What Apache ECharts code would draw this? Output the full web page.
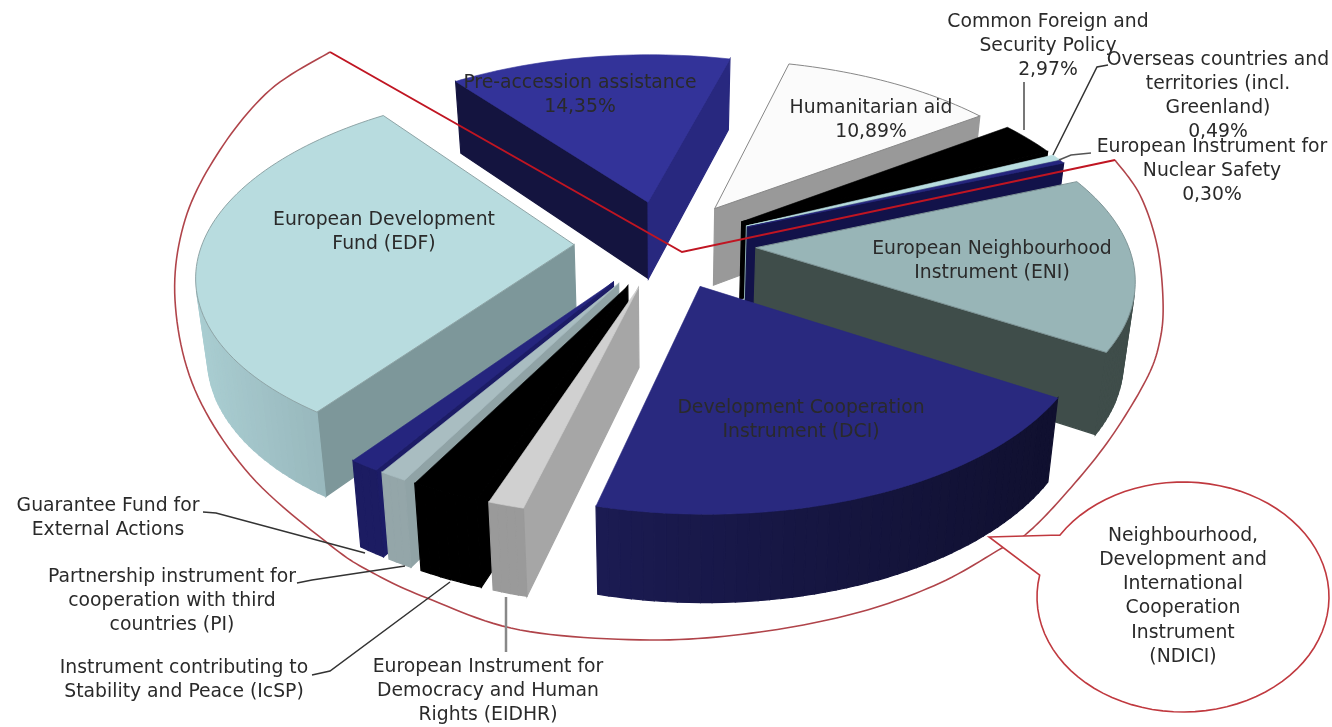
<!DOCTYPE html>
<html><head><meta charset="utf-8">
<script src="https://cdn.jsdelivr.net/npm/echarts@6/dist/echarts.min.js"></script>
<style>html,body{margin:0;padding:0;background:#fff}#c{width:1332px;height:727px;filter:blur(0.5px)}</style>
</head><body><div id="c"></div>
<script>
// ---- data ----
var sliceNames = ['Pre-accession assistance','Humanitarian aid','Common Foreign and Security Policy','Overseas countries and territories (incl. Greenland)','European Instrument for Nuclear Safety','European Neighbourhood Instrument (ENI)','Development Cooperation Instrument (DCI)','European Instrument for Democracy and Human Rights (EIDHR)','Instrument contributing to Stability and Peace (IcSP)','Partnership instrument for cooperation with third countries (PI)','Guarantee Fund for External Actions','European Development Fund (EDF)'];
var sliceValues = [14.35,10.89,2.97,0.49,0.30,15.2,20.0,1.3,2.5,1.0,1.1,29.9];
// ---- styles ----
var topColors  = ['#333399','#fbfbfb','#000000','#b9dde0','#25257e','#98b5b7','#29297f','#d0d0d0','#000000','#a9bdc1','#25257e','#b8dcdf'];
var side1      = ['#14143f','#999999','#000000','#8fb0b3','#12124a','#3f4d4a','#14143f','#a6a6a6','#000000','#90a3a6','#1c1c66','#7d979a'];
var side2      = ['#28287f','#999999','#000000','#8fb0b3','#12124a','#3f4d4a','#14143f','#a6a6a6','#000000','#90a3a6','#1c1c66','#7d979a'];
var wallL      = ['#1c1c66','#a0a0a0','#000000','#8fb0b3','#12124a','#3f4d4a','#1b1b52','#9a9a9a','#000000','#94a6a9','#1c1c62','#a9cdd1'];
var wallR      = ['#1c1c66','#a0a0a0','#000000','#8fb0b3','#12124a','#3f4d4a','#10102f','#9a9a9a','#000000','#94a6a9','#1c1c62','#90adb2'];
var rimColors  = [null,'#888888',null,null,null,'#7f9597',null,null,null,null,null,'#8fa5a7'];
// ---- projection ----
var CX=665, CY=244, UNIT=379, QY=190, PERSP=0.155, XSCALE=1.033, RADIUS=360, EXPLODE=88, HEIGHT=78, SHRINK=0.975, START=-127;

function project(X,Y,bottom){
  var v=Y/UNIT, s=1/(1-PERSP*v), k=bottom?SHRINK:1;
  return [CX+XSCALE*X*s*k, CY+QY*v*s*k+(bottom?HEIGHT*s:0)];
}
function lerpColor(a,b,t){
  var pa=parseInt(a.slice(1),16), pb=parseInt(b.slice(1),16), out=0;
  [16,8,0].forEach(function(sh){
    var ca=(pa>>sh)&255, cb=(pb>>sh)&255;
    out|=Math.round(ca+(cb-ca)*t)<<sh;
  });
  return '#'+('000000'+out.toString(16)).slice(-6);
}
function area(p){var a=0;for(var i=0;i<p.length;i++){var q=p[(i+1)%p.length];a+=p[i][0]*q[1]-q[0]*p[i][1];}return a/2;}

var total=sliceValues.reduce(function(a,b){return a+b;},0);
var bounds=[], acc=START;
sliceValues.forEach(function(v){var n=acc+v/total*360;bounds.push([acc,n]);acc=n;});
// back to front
var renderOrder=sliceValues.map(function(_,i){return i;}).sort(function(a,b){
  var ma=(bounds[a][0]+bounds[a][1])/2*Math.PI/180, mb=(bounds[b][0]+bounds[b][1])/2*Math.PI/180;
  return Math.sin(ma)-Math.sin(mb);
});

function renderSlice(params,api){
  var i=api.value(0), a0=bounds[i][0], a1=bounds[i][1], mid=(a0+a1)/2*Math.PI/180;
  var ox=EXPLODE*Math.cos(mid), oy=EXPLODE*Math.sin(mid);
  var n=Math.max(2,Math.ceil((a1-a0)/1.5)), rimT=[], rimB=[];
  for(var k=0;k<=n;k++){
    var t=(a0+(a1-a0)*k/n)*Math.PI/180;
    var X=ox+RADIUS*Math.cos(t), Y=oy+RADIUS*Math.sin(t);
    rimT.push(project(X,Y,false)); rimB.push(project(X,Y,true));
  }
  var apT=project(ox,oy,false), apB=project(ox,oy,true);
  var topPoly=[apT].concat(rimT), sign=area(topPoly)>0?1:-1, kids=[];
  function face(a,b,bb,ab,color){
    var q=[a,b,bb,ab];
    if(area(q)*sign<0) kids.push({type:'polygon',shape:{points:q},style:{fill:color,stroke:color,lineWidth:1.2}});
  }
  face(apT,rimT[0],rimB[0],apB,side1[i]);
  face(rimT[n],apT,apB,rimB[n],side2[i]);
  var minX=Math.min.apply(null,rimT.map(function(p){return p[0];}));
  var maxX=Math.max.apply(null,rimT.map(function(p){return p[0];}));
  for(var m=0;m<n;m++){
    var sx=(rimT[m][0]+rimT[m+1][0])/2;
    var col=lerpColor(wallL[i],wallR[i],(sx-minX)/Math.max(1,maxX-minX));
    face(rimT[m],rimT[m+1],rimB[m+1],rimB[m],col);
  }
  kids.push({type:'polygon',shape:{points:topPoly},style:{fill:topColors[i],stroke:rimColors[i]||topColors[i],lineWidth:rimColors[i]?1:0.6}});
  return {type:'group',children:kids};
}

// ---- annotations ----
var FONT='"DejaVu Sans"', FS=18.8;
var labelBlocks=[
 [580,83,['Pre-accession assistance','14,35%']],
 [871,108,['Humanitarian aid','10,89%']],
 [1048,22,['Common Foreign and','Security Policy','2,97%']],
 [1218,60,['Overseas countries and','territories (incl.','Greenland)','0,49%']],
 [1212,147,['European Instrument for','Nuclear Safety','0,30%']],
 [384,220,['European Development','Fund (EDF)']],
 [992,249,['European Neighbourhood','Instrument (ENI)']],
 [801,408,['Development Cooperation','Instrument (DCI)']],
 [108,506,['Guarantee Fund for','External Actions']],
 [172,577,['Partnership instrument for','cooperation with third','countries (PI)']],
 [184,668,['Instrument contributing to','Stability and Peace (IcSP)']],
 [488,667,['European Instrument for','Democracy and Human','Rights (EIDHR)']],
 [1183,536,['Neighbourhood,','Development and','International','Cooperation','Instrument','(NDICI)']]
];
var leaders=[
 [[[1024,82],[1024,130]],'#777777',2],
 [[[1108,65],[1097,67],[1053,155]],'#333333',1.5],
 [[[1091,153],[1071,155],[1059,160]],'#555555',1.5],
 [[[203,512],[216,513],[365,553]],'#333333',1.5],
 [[[297,583],[312,580],[405,566]],'#333333',1.5],
 [[[312,675],[330,671],[450,582]],'#333333',1.5],
 [[[506,597],[506,652]],'#888888',2.5]
];
function catmull(pts){
  var out=[];
  for(var i=0;i<pts.length-1;i++){
    var p0=pts[Math.max(0,i-1)],p1=pts[i],p2=pts[i+1],p3=pts[Math.min(pts.length-1,i+2)];
    for(var j=0;j<12;j++){
      var t=j/12,t2=t*t,t3=t2*t;
      out.push([0,1].map(function(d){return 0.5*(2*p1[d]+(p2[d]-p0[d])*t+(2*p0[d]-5*p1[d]+4*p2[d]-p3[d])*t2+(3*p1[d]-p0[d]-3*p2[d]+p3[d])*t3);}));
    }
  }
  out.push(pts[pts.length-1]);
  return out;
}
var outlinePts=[[1115,160],[1140,195],[1157,245],[1163,300],[1160,340],[1146,380],[1107,443],[1060,500],[1025,535],[1002,548],[940,583],[860,612],[760,632],[650,640],[520,630],[427,598],[373,573],[330,545],[250,475],[195,390],[175,300],[185,220],[220,150],[270,90],[330,52]];
function calloutPoints(){
  var cx=1183,cy=597,rx=146,ry=115;
  var pts=[[989,537],[1060,535]];
  var a0=Math.atan2((535-cy)/ry,(1060-cx)/rx), a1=Math.atan2((575-cy)/ry,(1039-cx)/rx)+2*Math.PI;
  for(var i=0;i<=80;i++){var t=a0+(a1-a0)*i/80;pts.push([cx+rx*Math.cos(t),cy+ry*Math.sin(t)]);}
  return pts;
}
var graphics=[];
graphics.push({type:'polyline',z:10,shape:{points:catmull(outlinePts)},style:{fill:null,stroke:'#b0444a',lineWidth:1.6}});
graphics.push({type:'polyline',z:10,shape:{points:[[330,52],[682,252],[1115,160]]},style:{fill:null,stroke:'#c01522',lineWidth:2}});
graphics.push({type:'polygon',z:11,shape:{points:calloutPoints()},style:{fill:'#ffffff',stroke:'#c0393f',lineWidth:1.6}});
leaders.forEach(function(l){graphics.push({type:'polyline',z:12,shape:{points:l[0]},style:{fill:null,stroke:l[1],lineWidth:l[2]}});});
labelBlocks.forEach(function(b){
  b[2].forEach(function(line,i){
    graphics.push({type:'text',z:20,x:b[0],y:b[1]+i*24.2,style:{text:line,fill:'#2a2a2a',font:FS+'px '+FONT,textAlign:'center',textVerticalAlign:'middle'}});
  });
});

var chart=echarts.init(document.getElementById('c'));
chart.setOption({
  animation:false,
  backgroundColor:'#ffffff',
  graphic:{elements:graphics},
  series:[{type:'custom',coordinateSystem:'none',silent:true,renderItem:renderSlice,data:renderOrder.map(function(i){return [i];}),encode:{}}]
});
</script>
</body></html>
